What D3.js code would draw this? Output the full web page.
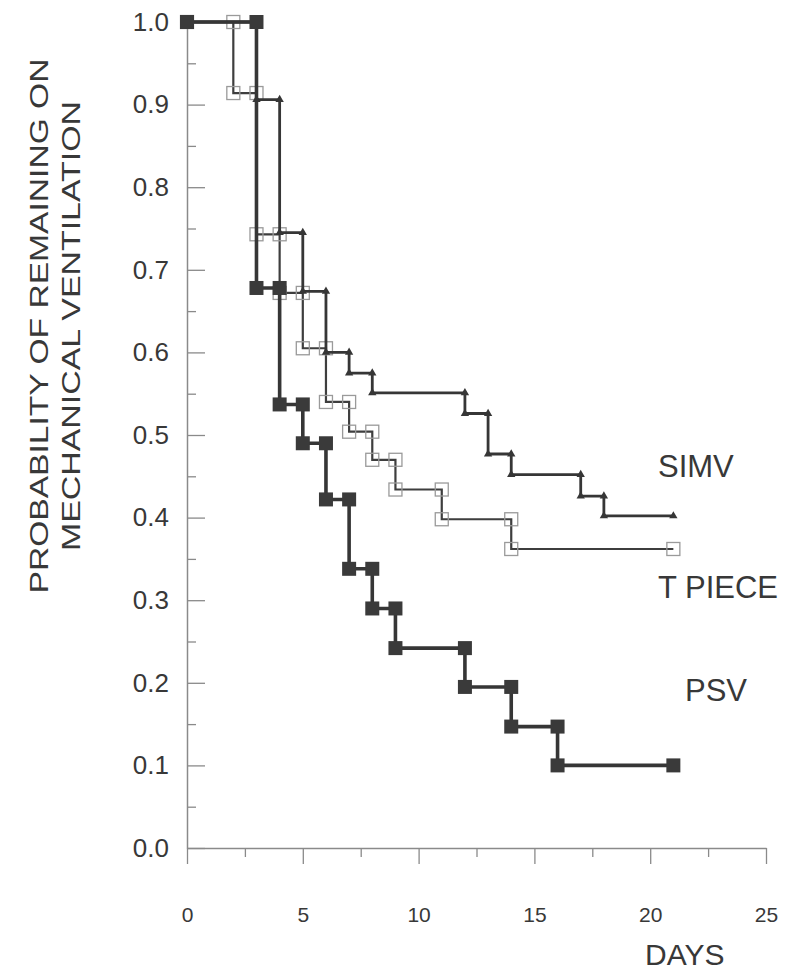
<!DOCTYPE html>
<html>
<head>
<meta charset="utf-8">
<script src="https://cdn.jsdelivr.net/npm/d3@7"></script>
<style>
  body { margin: 0; background: #fff; }
  svg { display: block; font-family: "Liberation Sans", Arial, Helvetica, sans-serif; }
</style>
</head>
<body>
<svg width="795" height="971"></svg>
<script>
// step times (days) and survival level starting at that time; last entry = end of follow-up
const psvTimes = [0, 3, 4, 5, 6, 7, 8, 9, 12, 14, 16, 21];
const psvLevels = [1.0, 0.678, 0.537, 0.490, 0.422, 0.338, 0.290, 0.242, 0.195, 0.147, 0.100, 0.100];

const tpieceTimes = [0, 2, 3, 4, 5, 6, 7, 8, 9, 11, 14, 21];
const tpieceLevels = [1.0, 0.914, 0.743, 0.672, 0.605, 0.540, 0.504, 0.470, 0.434, 0.398, 0.362, 0.362];

const simvTimes = [0, 3, 4, 5, 6, 7, 8, 12, 13, 14, 17, 18, 21];
const simvLevels = [1.0, 0.906, 0.745, 0.674, 0.600, 0.575, 0.551, 0.526, 0.477, 0.452, 0.426, 0.402, 0.402];

const xMajor = [0, 5, 10, 15, 20, 25];
const xMinor = [2.5, 7.5, 12.5, 17.5, 22.5];
const yMajor = [0, 0.1, 0.2, 0.3, 0.4, 0.5, 0.6, 0.7, 0.8, 0.9, 1.0];
const yMinor = [0.05, 0.15, 0.25, 0.35, 0.45, 0.55, 0.65, 0.75, 0.85, 0.95];

const svg = d3.select('svg');
const ink = '#363636';
const axisInk = '#8a8a8a';

let x = d3.scaleLinear().domain([0, 25]).range([187, 766]);
let y = d3.scaleLinear().domain([0, 1]).range([848, 22]);

// x axis: major + minor ticks pointing down
svg.append('g')
  .attr('transform', 'translate(0,848)')
  .call(d3.axisBottom(x).tickValues(xMinor).tickSize(9).tickFormat(''))
  .call(g => g.select('.domain').remove());
let xAx = svg.append('g')
  .attr('transform', 'translate(0,848)')
  .call(d3.axisBottom(x).tickValues(xMajor).tickSize(16).tickSizeOuter(0).tickPadding(43));
xAx.selectAll('text').attr('font-size', 21).attr('fill', '#383838').attr('font-family', 'Liberation Sans, Arial, sans-serif');

// y axis: ticks pointing inward
svg.append('g')
  .attr('transform', 'translate(187,0)')
  .call(d3.axisLeft(y).tickValues(yMinor).tickSize(-9).tickFormat(''))
  .call(g => g.select('.domain').remove());
let yAx = svg.append('g')
  .attr('transform', 'translate(187,0)')
  .call(d3.axisLeft(y).tickValues(yMajor).tickSize(-18).tickSizeOuter(0).tickPadding(18).tickFormat(d3.format('.1f')));
yAx.selectAll('text').attr('font-size', 26).attr('fill', '#383838').attr('font-family', 'Liberation Sans, Arial, sans-serif');

svg.selectAll('.tick line').attr('stroke', axisInk).attr('stroke-width', 1.3);
svg.selectAll('.domain').attr('stroke', axisInk).attr('stroke-width', 1.5);

function pts(times, levels) {
  return times.map((t, i) => [t, levels[i]]);
}
function markerPts(times, levels) {
  let out = [];
  for (let i = 0; i < times.length - 1; i++) {
    out.push([times[i], levels[i]]);
    out.push([times[i + 1], levels[i]]);
  }
  return out;
}

let step = d3.line().x(d => x(d[0])).y(d => y(d[1])).curve(d3.curveStepAfter);

// T PIECE
svg.append('path')
  .datum(pts(tpieceTimes, tpieceLevels))
  .attr('d', step)
  .attr('fill', 'none').attr('stroke', '#3e3e3e').attr('stroke-width', 2.2);
svg.selectAll('.tp')
  .data(markerPts(tpieceTimes, tpieceLevels))
  .enter().append('rect')
  .attr('class', 'tp')
  .attr('x', d => x(d[0]) - 6.5).attr('y', d => y(d[1]) - 6.5)
  .attr('width', 13).attr('height', 13)
  .attr('fill', 'none').attr('stroke', '#9a9a9a').attr('stroke-width', 1.3);

// SIMV
svg.append('path')
  .datum(pts(simvTimes, simvLevels))
  .attr('d', step)
  .attr('fill', 'none').attr('stroke', ink).attr('stroke-width', 2.8);
svg.selectAll('.sv')
  .data(markerPts(simvTimes, simvLevels))
  .enter().append('path')
  .attr('class', 'sv')
  .attr('d', d3.symbol().type(d3.symbolTriangle).size(30))
  .attr('transform', d => `translate(${x(d[0])},${y(d[1])})`)
  .attr('fill', ink);

// PSV
svg.append('path')
  .datum(pts(psvTimes, psvLevels))
  .attr('d', step)
  .attr('fill', 'none').attr('stroke', ink).attr('stroke-width', 3.6);
svg.selectAll('.ps')
  .data(markerPts(psvTimes, psvLevels))
  .enter().append('rect')
  .attr('class', 'ps')
  .attr('x', d => x(d[0]) - 7).attr('y', d => y(d[1]) - 7)
  .attr('width', 14).attr('height', 14)
  .attr('fill', '#3a3a3a');

// labels
const lab = (txt, px, py, fs) => svg.append('text')
  .attr('x', px).attr('y', py).attr('font-size', fs).attr('fill', '#383838').text(txt);
lab('SIMV', 658, 477, 31);
lab('T PIECE', 658, 598, 31);
lab('PSV', 685, 701, 31);
lab('DAYS', 645, 965, 30);

let yt = svg.append('text')
  .attr('transform', 'translate(0,326) rotate(-90)')
  .attr('text-anchor', 'middle')
  .attr('font-size', 25).attr('fill', '#383838');
yt.append('tspan').attr('x', 0).attr('y', 48)
  .attr('textLength', 535).attr('lengthAdjust', 'spacingAndGlyphs')
  .text('PROBABILITY OF REMAINING ON');
yt.append('tspan').attr('x', 0).attr('y', 80)
  .attr('textLength', 450).attr('lengthAdjust', 'spacingAndGlyphs')
  .text('MECHANICAL VENTILATION');
</script>
</body>
</html>
